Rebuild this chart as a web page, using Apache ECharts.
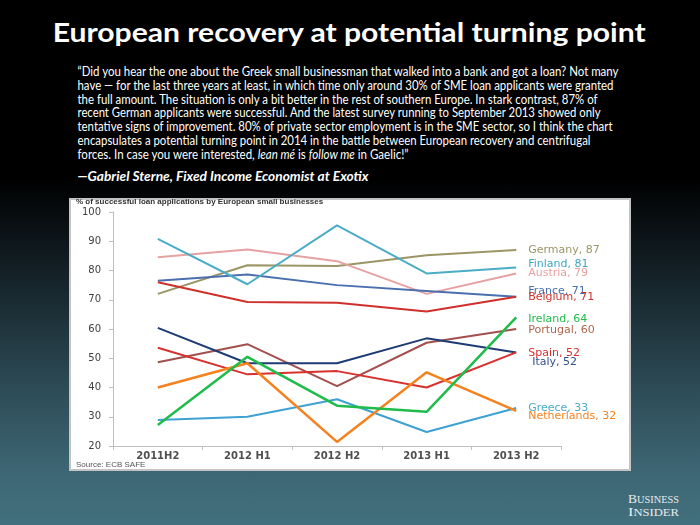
<!DOCTYPE html>
<html>
<head>
<meta charset="utf-8">
<script src="https://cdn.jsdelivr.net/npm/echarts@6/dist/echarts.min.js"></script>
<style>
  html, body { margin: 0; padding: 0; width: 700px; height: 525px; overflow: hidden; }
  body { background: linear-gradient(180deg, #000 0%, #000 34%, #0c1418 45%, #1d3038 60%, #2f4f5a 76%, #3d6674 90%, #43707e 100%); position: relative; }
  #deco { position: absolute; left: 0; top: 0; }
  #chart { position: absolute; left: 0; top: 0; width: 700px; height: 525px; }
</style>
</head>
<body>
<svg id="deco" width="700" height="525" xmlns="http://www.w3.org/2000/svg">
  <text x="52.7" y="42.3" font-family="Lato" font-weight="bold" font-size="27" fill="#ffffff" textLength="593" lengthAdjust="spacingAndGlyphs">European recovery at potential turning point</text>
  <g font-family="Lato" font-size="13" fill="#ffffff">
    <text x="77.5" y="75.7" textLength="541" lengthAdjust="spacingAndGlyphs">“Did you hear the one about the Greek small businessman that walked into a bank and got a loan? Not many</text>
    <text x="77.5" y="89.6" textLength="536" lengthAdjust="spacingAndGlyphs">have — for the last three years at least, in which time only around 30% of SME loan applicants were granted</text>
    <text x="77.5" y="103.5" textLength="520" lengthAdjust="spacingAndGlyphs">the full amount. The situation is only a bit better in the rest of southern Europe. In stark contrast, 87% of</text>
    <text x="77.5" y="117.4" textLength="523" lengthAdjust="spacingAndGlyphs">recent German applicants were successful. And the latest survey running to September 2013 showed only</text>
    <text x="77.5" y="131.3" textLength="535" lengthAdjust="spacingAndGlyphs">tentative signs of improvement. 80% of private sector employment is in the SME sector, so I think the chart</text>
    <text x="77.5" y="145.2" textLength="513" lengthAdjust="spacingAndGlyphs">encapsulates a potential turning point in 2014 in the battle between European recovery and centrifugal</text>
    <text x="77.5" y="159.1" textLength="331" lengthAdjust="spacingAndGlyphs">forces. In case you were interested, <tspan font-style="italic">lean mé</tspan> is <tspan font-style="italic">follow me</tspan> in Gaelic!”</text>
  </g>
  <text x="77.5" y="180.7" font-family="Lato" font-size="14" font-weight="bold" font-style="italic" fill="#ffffff" textLength="291" lengthAdjust="spacingAndGlyphs">—Gabriel Sterne, Fixed Income Economist at Exotix</text>
  <rect x="70" y="199" width="560" height="271" fill="#ffffff" stroke="#c4c4c4" stroke-width="2"/>
  <g font-family="Liberation Serif" fill="#e6eced">
    <text x="628" y="502.7" textLength="51" lengthAdjust="spacingAndGlyphs"><tspan font-size="13">B</tspan><tspan font-size="10">USINESS</tspan></text>
    <text x="628" y="515.7" textLength="51" lengthAdjust="spacingAndGlyphs"><tspan font-size="13">I</tspan><tspan font-size="10">NSIDER</tspan></text>
  </g>
</svg>
<div id="chart"></div>
<script>
const categories = ['2011H2', '2012 H1', '2012 H2', '2013 H1', '2013 H2'];
const yTicks = [20, 30, 40, 50, 60, 70, 80, 90, 100];

const germany     = [72.0, 81.8, 81.5, 85.2, 87];
const finland     = [90.8, 75.3, 95.4, 79.0, 81];
const austria     = [84.5, 87.2, 83.2, 72.0, 79];
const france      = [76.5, 78.6, 75.0, 73.0, 71];
const belgium     = [76.0, 69.2, 69.0, 66.0, 71];
const ireland     = [27.2, 50.5, 33.8, 31.7, 64];
const portugal    = [48.6, 54.8, 40.5, 55.3, 60];
const spain       = [53.6, 44.5, 45.6, 40.0, 52];
const italy       = [60.4, 48.3, 48.3, 56.8, 52];
const greece      = [28.9, 30.0, 36.0, 24.8, 33];
const netherlands = [40.0, 48.3, 21.4, 45.2, 32];

const seriesDefs = [
  { name: 'Germany',     data: germany,     color: '#9b9566', labelColor: '#9b9566', w: 2,   dy: 0,  dx: 0 },
  { name: 'Austria',     data: austria,     color: '#e6a2a2', labelColor: '#e8a0a0', w: 2,   dy: 0,  dx: 0 },
  { name: 'France',      data: france,      color: '#4a6fae', labelColor: '#4a6fae', w: 2,   dy: -6, dx: 0 },
  { name: 'Belgium',     data: belgium,     color: '#d0302c', labelColor: '#d0302c', w: 2,   dy: 0,  dx: 0 },
  { name: 'Finland',     data: finland,     color: '#4bacc6', labelColor: '#3fa6c4', w: 2,   dy: -3, dx: 0 },
  { name: 'Portugal',    data: portugal,    color: '#a1504d', labelColor: '#b0664a', w: 2,   dy: 1,  dx: 0 },
  { name: 'Italy',       data: italy,       color: '#1f3b73', labelColor: '#34508c', w: 2,   dy: 10, dx: 4 },
  { name: 'Spain',       data: spain,       color: '#d8302e', labelColor: '#d8302e', w: 2,   dy: 1,  dx: 0 },
  { name: 'Greece',      data: greece,      color: '#3ea1d3', labelColor: '#4bacc6', w: 2,   dy: 0,  dx: 0 },
  { name: 'Netherlands', data: netherlands, color: '#f5821f', labelColor: '#f5821f', w: 2.5, dy: 5,  dx: 0 },
  { name: 'Ireland',     data: ireland,     color: '#1fbb4b', labelColor: '#1fbb4b', w: 2.5, dy: 2,  dx: 0 }
];

const chart = echarts.init(document.getElementById('chart'), null, { renderer: 'canvas' });
chart.setOption({
  animation: false,
  backgroundColor: 'transparent',
  title: {
    text: '% of successful loan applications by European small businesses',
    left: 76, top: 198, padding: 0,
    textStyle: { fontFamily: 'Liberation Sans', fontSize: 8, fontWeight: 'bold', color: '#333333' }
  },
  graphic: [{
    type: 'text', left: 76, top: 461,
    style: { text: 'Source: ECB SAFE', font: '8px "Liberation Sans"', fill: '#555555' }
  }],
  grid: { left: 113, right: 139, top: 212, bottom: 79, containLabel: false },
  xAxis: {
    type: 'category',
    data: categories,
    boundaryGap: true,
    axisLine: { show: true, lineStyle: { color: '#bfbfbf', width: 1 } },
    axisTick: { show: true, length: 4, alignWithLabel: false, lineStyle: { color: '#bfbfbf' } },
    axisLabel: { margin: 5, fontFamily: 'DejaVu Sans', fontSize: 10, fontWeight: 'bold', color: '#505050' },
    splitLine: { show: false }
  },
  yAxis: {
    type: 'value',
    min: yTicks[0], max: yTicks[yTicks.length - 1], interval: 10,
    axisLine: { show: true, lineStyle: { color: '#bfbfbf', width: 1 } },
    axisTick: { show: true, length: 4, lineStyle: { color: '#bfbfbf' } },
    axisLabel: { margin: 12, fontFamily: 'DejaVu Sans', fontSize: 10, color: '#404040' },
    splitLine: { show: false }
  },
  series: seriesDefs.map(s => ({
    type: 'line',
    name: s.name,
    data: s.data,
    symbol: 'none',
    lineStyle: { color: s.color, width: s.w },
    itemStyle: { color: s.color },
    endLabel: {
      show: true,
      formatter: '{a}, {c}',
      distance: 5,
      offset: [7 + s.dx, s.dy],
      color: s.labelColor,
      fontFamily: 'DejaVu Sans',
      fontSize: 11
    }
  }))
});
</script>
</body>
</html>
